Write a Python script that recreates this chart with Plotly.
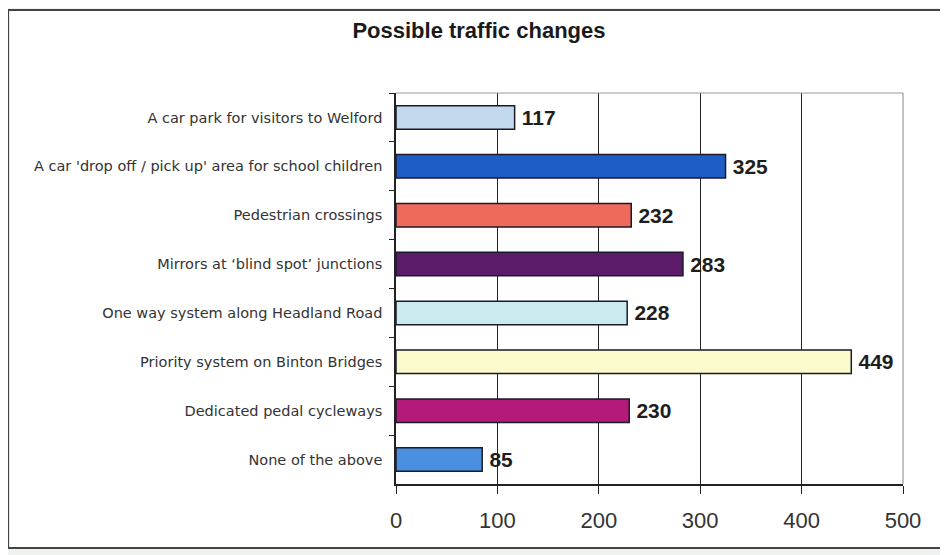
import plotly.graph_objects as go

categories = [
    "A car park for visitors to Welford",
    "A car 'drop off / pick up' area for school children",
    "Pedestrian crossings",
    "Mirrors at \u2018blind spot\u2019 junctions",
    "One way system along Headland Road",
    "Priority system on Binton Bridges",
    "Dedicated pedal cycleways",
    "None of the above",
]
values = [117, 325, 232, 283, 228, 449, 230, 85]
colors = ["#c3d9ee", "#1f5dc6", "#f06a5c", "#5b1b68", "#c9ebf0", "#fbfacb", "#b41a79", "#4b8fe0"]
x_ticks = [0, 100, 200, 300, 400, 500]

fig = go.Figure()
fig.add_trace(go.Bar(
    y=categories, x=values, orientation="h",
    marker=dict(color=colors, line=dict(color="#1a1a2a", width=1.5)),
    width=0.48,
    text=["\u2009" + str(v) for v in values], textposition="outside",
    textfont=dict(family="Liberation Sans, Arial", size=25, color="#1e1e1e", weight="bold"),
    cliponaxis=False,
))

fig.update_layout(
    width=940, height=547,
    margin=dict(l=388, r=45, t=85, b=71),
    paper_bgcolor="#eef2ee",
    plot_bgcolor="white",
    showlegend=False,
    title=dict(text="<b>Possible traffic changes</b>", x=0.501, xanchor="center", y=0.96, yanchor="middle",
               font=dict(family="Liberation Sans, Arial", size=22, color="#1a1a1a")),
    xaxis=dict(range=[0, 500], tickvals=x_ticks, showgrid=True, gridcolor="#222", gridwidth=1,
               zeroline=False, showline=True, linecolor="#222", linewidth=1.5,
               ticks="outside", ticklen=8, tickcolor="#222", ticklabelstandoff=8,
               tickfont=dict(family="Liberation Sans, Arial", size=22, color="#333")),
    yaxis=dict(categoryorder="array", categoryarray=categories, autorange="reversed",
               showline=True, linecolor="#222", linewidth=1.5, ticks="outside", ticklen=5,
               tickson="boundaries", tickcolor="#222", showgrid=False, ticklabelstandoff=9,
               tickfont=dict(family="DejaVu Sans", size=14.5, color="#333")),
    shapes=[
        dict(type="rect", xref="paper", yref="paper", x0=-0.765, x1=1.077, y0=-0.164, y1=1.212,
             line=dict(color="#444", width=2), fillcolor="white", layer="below"),
        dict(type="line", xref="paper", yref="paper", x0=0, x1=1, y0=1, y1=1, line=dict(color="#999", width=1.2)),
        dict(type="line", xref="paper", yref="paper", x0=1, x1=1, y0=0, y1=1, line=dict(color="#999", width=1.2)),
    ],
    bargap=0.5,
)

fig.write_html("out.html")
